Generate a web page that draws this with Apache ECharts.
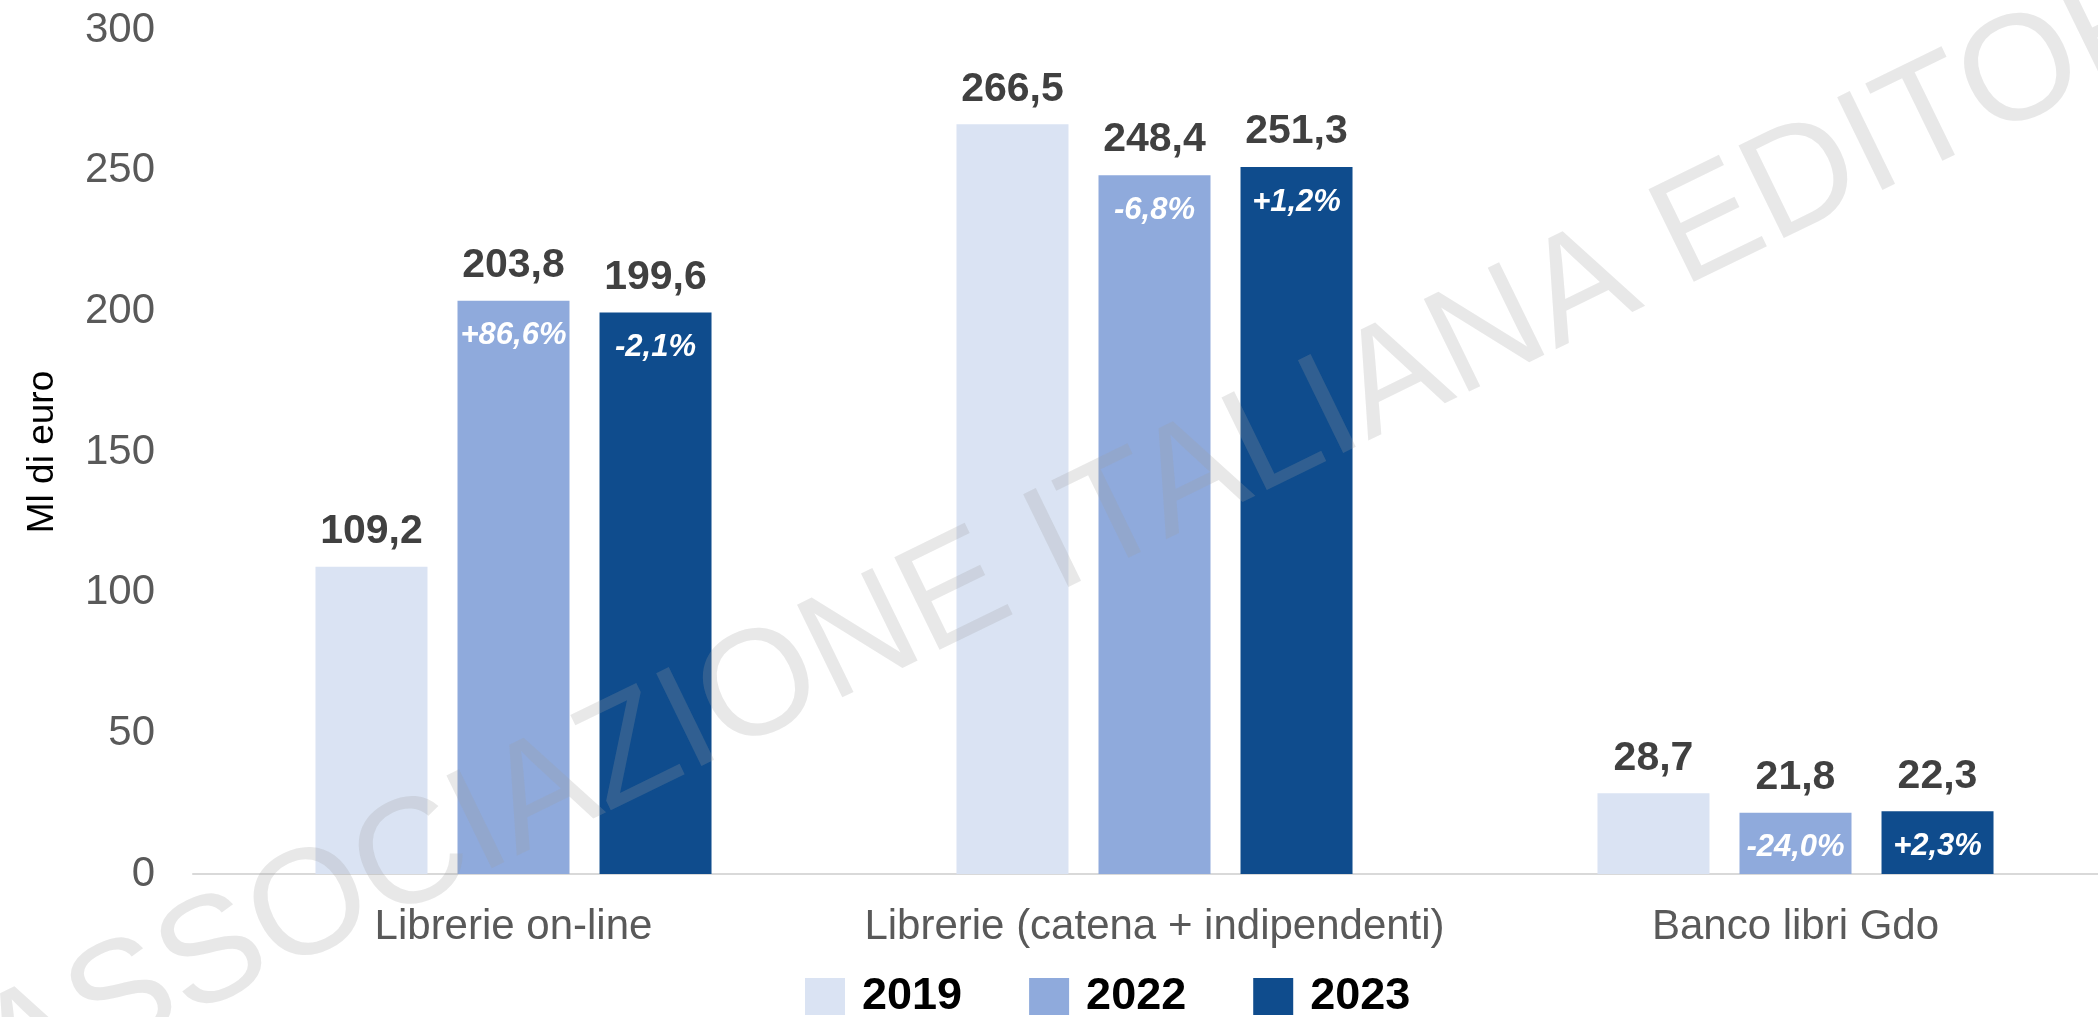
<!DOCTYPE html>
<html>
<head>
<meta charset="utf-8">
<script src="https://cdn.jsdelivr.net/npm/echarts@6/dist/echarts.min.js"></script>
<style>
  html, body { margin: 0; padding: 0; background: #fff; }
  #chart { width: 2098px; height: 1017px; }
</style>
</head>
<body>
<div id="chart"></div>
<script>
const categories = ['Librerie on-line', 'Librerie (catena + indipendenti)', 'Banco libri Gdo']
const years = ['2019', '2022', '2023']
const values2019 = [109.2, 266.5, 28.7]
const values2022 = [203.8, 248.4, 21.8]
const values2023 = [199.6, 251.3, 22.3]
const change2022 = ['+86,6%', '-6,8%', '-24,0%']
const change2023 = ['-2,1%', '+1,2%', '+2,3%']
const yTicks = [0, 50, 100, 150, 200, 250, 300]

const colors = ['#DAE3F3', '#8FAADC', '#0F4C8D']
const font = 'Liberation Sans, Arial, sans-serif'

const chart = echarts.init(document.getElementById('chart'))

// value above the bar, % change inside the top of the bar
const makeSeries = (name, values, changes, color) => ({
  name,
  type: 'bar',
  data: values,
  barWidth: 112,
  barGap: '26.8%',
  itemStyle: { color },
  label: {
    show: true,
    position: 'insideTop',
    distance: 0,
    offset: [0, -70],
    formatter: (p) => {
      const v = p.value.toFixed(1).replace('.', ',')
      const c = changes ? changes[p.dataIndex] : ' '
      return '{v|' + v + '}\n{p|' + c + '}'
    },
    rich: {
      v: {
        fontFamily: font,
        fontSize: 41,
        fontWeight: 'bold',
        color: '#404040',
        lineHeight: 70
      },
      p: {
        fontFamily: font,
        fontSize: 31,
        fontWeight: 'bold',
        fontStyle: 'italic',
        color: '#ffffff',
        lineHeight: 70
      }
    }
  }
})

const option = {
  animation: false,
  color: colors,
  grid: {
    left: 193,
    width: 1923,
    top: 30,
    bottom: 143,
    outerBoundsMode: 'none',
    containLabel: false
  },
  legend: {
    data: years,
    left: 800,
    top: 969,
    icon: 'rect',
    itemWidth: 40,
    itemHeight: 37,
    itemGap: 67,
    textStyle: {
      fontFamily: font,
      fontSize: 45,
      fontWeight: 'bold',
      color: '#000',
      padding: [0, 0, 0, 12]
    }
  },
  xAxis: {
    type: 'category',
    data: categories,
    axisLine: { lineStyle: { color: '#D9D9D9', width: 2 } },
    axisTick: { show: false },
    axisLabel: {
      interval: 0,
      fontFamily: font,
      fontSize: 42,
      color: '#595959',
      margin: 32
    }
  },
  yAxis: {
    type: 'value',
    min: yTicks[0],
    max: yTicks[yTicks.length - 1],
    interval: 50,
    name: 'Ml di euro',
    nameLocation: 'middle',
    nameRotate: 90,
    nameGap: 132,
    nameTextStyle: {
      fontFamily: font,
      fontSize: 37,
      color: '#000'
    },
    axisLine: { show: false },
    axisTick: { show: false },
    splitLine: { show: false },
    axisLabel: {
      fontFamily: font,
      fontSize: 42,
      color: '#595959',
      margin: 38
    }
  },
  series: [
    makeSeries('2019', values2019, null, colors[0]),
    makeSeries('2022', values2022, change2022, colors[1]),
    makeSeries('2023', values2023, change2023, colors[2])
  ],
  graphic: [
    {
      type: 'text',
      x: 1099,
      y: 526,
      rotation: 26 * Math.PI / 180,
      z: 100,
      silent: true,
      style: {
        text: 'ASSOCIAZIONE ITALIANA EDITORI',
        font: '150px ' + font,
        fill: 'rgba(160, 160, 160, 0.24)',
        textAlign: 'center',
        textVerticalAlign: 'middle'
      }
    }
  ]
}

chart.setOption(option)
window.addEventListener('resize', () => chart.resize())
</script>
</body>
</html>
